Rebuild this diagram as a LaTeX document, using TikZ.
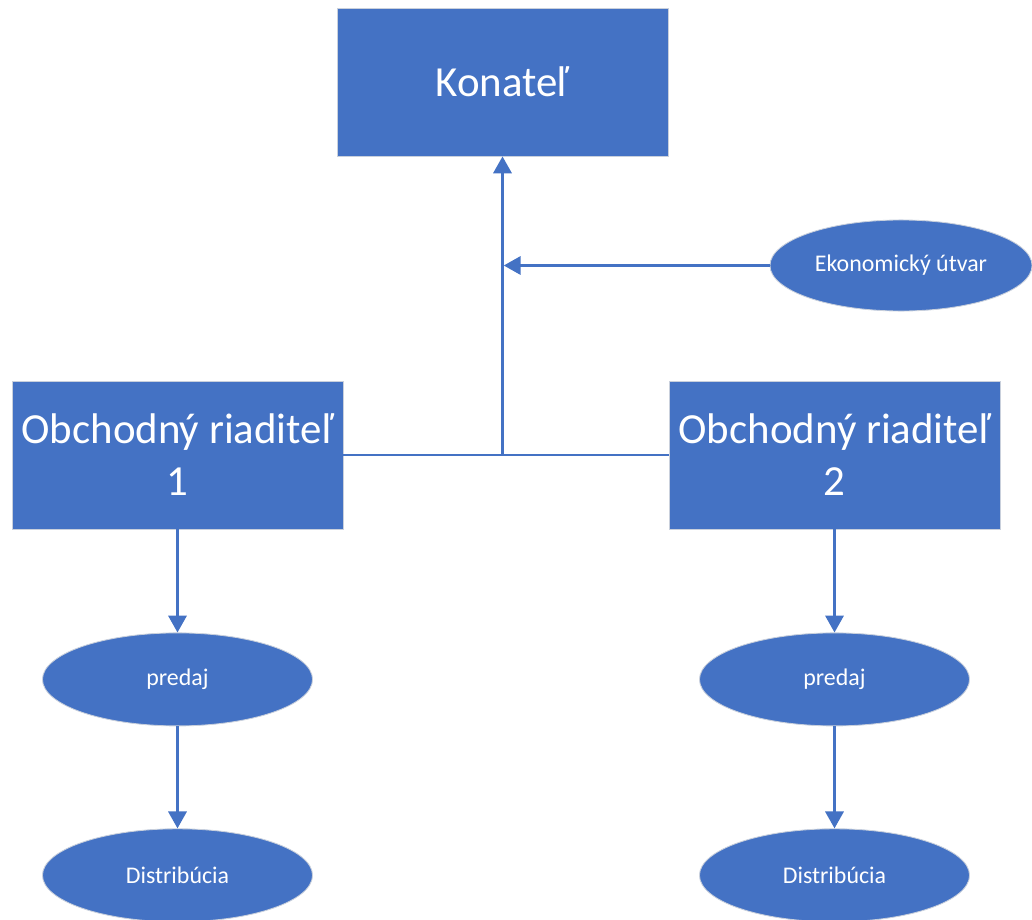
\documentclass[tikz,border=0pt]{standalone}
\usepackage{fontspec}
\setmainfont{Carlito}
\usepackage{tikz}
\usetikzlibrary{arrows.meta,positioning,shapes.geometric}
\definecolor{office}{HTML}{4472C4}
\definecolor{edge}{HTML}{C9D0DC}
\tikzset{
  unit/.style={draw=edge,line width=0.6pt,fill=office,text=white,align=center,
    minimum width=8.275cm,minimum height=3.7cm,inner sep=2pt,font=\fontsize{30.5}{37}\selectfont},
  dept/.style={ellipse,draw=edge,line width=0.6pt,fill=office,text=white,inner sep=0pt,
    minimum width=6.75cm,minimum height=2.325cm,font=\fontsize{17}{20}\selectfont},
  flow/.style={-{Triangle[length=12pt,width=13pt]},line width=1.8pt,draw=office},
  link/.style={line width=1.8pt,draw=office},
}

\begin{document}
\begin{tikzpicture}[x=0.025cm,y=-0.025cm]
  \clip (0,0) rectangle (1032,920);
  \fill[white] (0,0) rectangle (1032,920);
  \node[unit] (k) at (502.5,82) {Konateľ};
  \node[unit] (o1) at (177.5,455) {Obchodný riaditeľ\\1};
  \node[unit] (o2) at (834.5,455) {Obchodný riaditeľ\\2};
  \node[dept,minimum width=6.55cm,minimum height=2.275cm] (e) at (901,265.5) {Ekonomický útvar};
  \node[dept,below=2.575cm of o1] (p1) {predaj};
  \node[dept,below=2.55cm of p1] (d1) {Distribúcia};
  \node[dept,below=2.575cm of o2] (p2) {predaj};
  \node[dept,below=2.55cm of p2] (d2) {Distribúcia};
  % spojenie riaditelov
  \coordinate (j) at (o1.east -| k.south);
  \coordinate (je) at (e.west -| k.south);
  \draw[link] (o1.east) -- (o2.west);
  \draw[flow] (j) -- (k.south);
  \draw[flow] (e.west) -- ([xshift=0.9pt]je);
  \draw[flow] (o1) -- (p1); \draw[flow] (p1) -- (d1);
  \draw[flow] (o2) -- (p2); \draw[flow] (p2) -- (d2);
\end{tikzpicture}
\end{document}
